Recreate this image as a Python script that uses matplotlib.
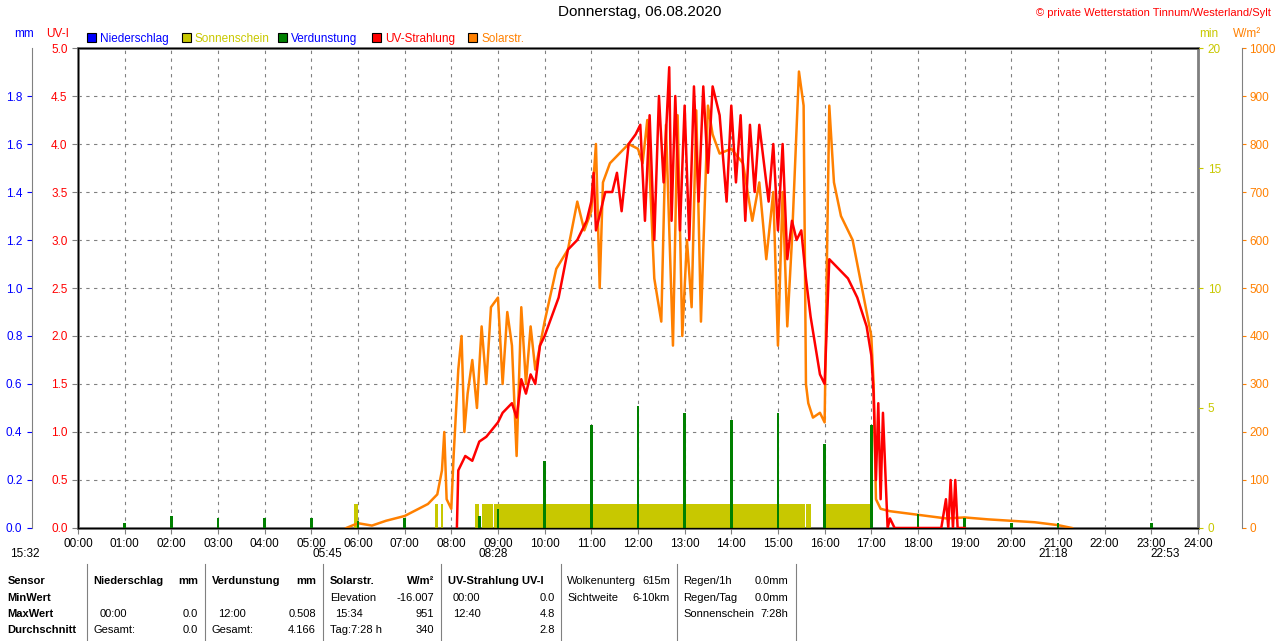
import numpy as np
from matplotlib import pyplot as plt
from matplotlib.patches import Rectangle

plt.rcParams['font.family'] = ['Liberation Sans', 'DejaVu Sans']
plt.rcParams['font.size'] = 8

# Solar radiation (W/m2), time in hours
sol_t = [5.75, 6.0, 6.3, 6.6, 7.0, 7.3, 7.5, 7.7, 7.8, 7.85, 7.9, 8.0, 8.05, 8.15, 8.22, 8.28, 8.35, 8.45,
         8.55, 8.65, 8.75, 8.85, 9.0, 9.1, 9.2, 9.3, 9.4, 9.5, 9.6, 9.7, 9.8, 9.9, 10.0, 10.25, 10.5, 10.7,
         10.85, 11.0, 11.1, 11.18, 11.25, 11.4, 11.6, 11.8, 12.0, 12.1, 12.2, 12.35, 12.5, 12.6, 12.75, 12.85,
         12.95, 13.05, 13.15, 13.25, 13.35, 13.5, 13.6, 13.75, 14.0, 14.25, 14.45, 14.6, 14.75, 14.9, 15.0,
         15.1, 15.2, 15.3, 15.45, 15.55, 15.6, 15.65, 15.75, 15.9, 16.0, 16.05, 16.1, 16.2, 16.35, 16.6,
         16.8, 17.0, 17.05, 17.1, 17.2, 17.4, 17.8, 18.2, 18.6, 19.0, 19.5, 20.0, 20.5, 21.0, 21.3]
sol_v = [0, 10, 5, 15, 25, 40, 50, 70, 120, 200, 60, 40, 150, 330, 400, 200, 280, 350,
         250, 420, 300, 460, 480, 300, 450, 380, 150, 460, 300, 420, 330, 380, 430, 540, 580, 680,
         620, 660, 800, 500, 720, 760, 780, 800, 790, 760, 850, 520, 430, 840, 380, 860, 400, 600, 460,
         870, 430, 880, 820, 780, 790, 760, 640, 720, 560, 700, 380, 700, 420, 600, 951, 880, 300, 260,
         230, 240, 220, 560, 880, 720, 650, 600, 500, 400, 300, 60, 40, 35, 30, 25, 20, 22, 18, 15, 12, 6, 0]

# UV index
uv_t = [8.12, 8.15, 8.3, 8.45, 8.6, 8.75, 9.0, 9.1, 9.2, 9.3, 9.4, 9.5, 9.6, 9.7, 9.8, 9.9, 10.0, 10.15,
        10.3, 10.5, 10.7, 10.9, 11.0, 11.05, 11.1, 11.2, 11.3, 11.45, 11.55, 11.65, 11.8, 11.95, 12.05,
        12.15, 12.25, 12.35, 12.45, 12.55, 12.67, 12.72, 12.8, 12.9, 13.0, 13.1, 13.2, 13.3, 13.4, 13.5,
        13.6, 13.75, 13.9, 14.0, 14.1, 14.2, 14.3, 14.4, 14.5, 14.6, 14.7, 14.8, 14.9, 15.0, 15.1, 15.2,
        15.3, 15.4, 15.5, 15.6, 15.7, 15.8, 15.9, 16.0, 16.1, 16.3, 16.5, 16.7, 16.9, 17.0, 17.05, 17.1,
        17.15, 17.2, 17.25, 17.35, 17.4, 17.5, 18.0, 18.5, 18.6, 18.65, 18.7, 18.75, 18.8, 18.85, 19.0]
uv_v = [0.0, 0.6, 0.75, 0.7, 0.9, 0.95, 1.1, 1.2, 1.25, 1.3, 1.15, 1.55, 1.4, 1.6, 1.5, 1.9, 2.0, 2.2,
        2.4, 2.9, 3.0, 3.2, 3.4, 3.7, 3.1, 3.3, 3.5, 3.5, 3.7, 3.3, 4.0, 4.1, 4.2, 3.2, 4.3, 3.0, 4.5,
        3.6, 4.8, 3.2, 4.5, 3.1, 4.4, 3.0, 4.6, 3.4, 4.6, 3.7, 4.6, 4.3, 3.4, 4.4, 3.6, 4.3, 3.2, 4.2,
        3.5, 4.2, 3.8, 3.4, 4.0, 3.1, 4.0, 2.8, 3.2, 3.0, 3.1, 2.6, 2.2, 1.9, 1.6, 1.5, 2.8, 2.7, 2.6,
        2.4, 2.1, 1.8, 1.4, 0.5, 1.3, 0.3, 1.2, 0.0, 0.1, 0.0, 0.0, 0.0, 0.3, 0.0, 0.5, 0.0, 0.5, 0.0, 0.0]

# Verdunstung spikes (mm)
evap_t = [1, 2, 3, 4, 5, 6, 7, 8.6, 9.0, 10.0, 11.0, 12.0, 13.0, 14.0, 15.0, 16.0, 17.0, 18.0, 19.0, 20.0, 21.0, 23.0]
evap_v = [0.02, 0.05, 0.04, 0.04, 0.04, 0.03, 0.04, 0.05, 0.08, 0.28, 0.43, 0.508, 0.48, 0.45, 0.48, 0.35, 0.43,
          0.06, 0.04, 0.02, 0.02, 0.02]

# Sonnenschein blocks (min per interval)
sun_start = [5.92, 7.65, 7.78, 8.5, 8.65, 8.92, 15.6, 16.0]
sun_end = [6.0, 7.72, 7.82, 8.6, 8.9, 15.58, 15.7, 17.0]
sun_v = [1, 1, 1, 1, 1, 1, 1, 1]

fig = plt.figure(figsize=(12.8, 6.41), dpi=100)
ax = fig.add_axes([0.0609, 0.1763, 0.875, 0.7488])
ax.set_xlim(0, 24)
ax.set_ylim(0, 5)
ax.set_xticks(range(25))
ax.set_xticklabels([f'{h:02d}:00' for h in range(25)])
ax.set_yticks(np.arange(0, 5.01, 0.5))
ax.set_yticklabels([f'{v:.1f}' for v in np.arange(0, 5.01, 0.5)], color='red')
ax.grid(True, ls=(0, (3, 4)), color='gray', lw=0.8)
for s in ax.spines.values():
    s.set_color('gray')
    s.set_linewidth(2)
ax.tick_params(length=4, color='gray', labelsize=8.5)

axm = ax.twinx()   # minutes
axm.set_ylim(0, 20)
for s, e, v in zip(sun_start, sun_end, sun_v):
    axm.add_patch(Rectangle((s, 0), e - s, v, color='#c8c800', lw=0))
axm.set_yticks([0, 5, 10, 15, 20])
axm.tick_params(colors='#c8c800', labelsize=8.5)
axm.spines['right'].set_color('gray')

axw = ax.twinx()   # W/m2
axw.set_ylim(0, 1000)
axw.spines['right'].set_position(('outward', 32))
axw.spines['right'].set_color('gray')
axw.set_yticks(range(0, 1001, 100))
axw.tick_params(colors='#ff8000', labelsize=8.5, length=3, pad=2)
axw.plot(sol_t, sol_v, color='#ff8000', lw=1.8)

axmm = ax.twinx()  # mm
axmm.set_ylim(0, 2.0)
axmm.yaxis.set_ticks_position('left')
axmm.spines['left'].set_position(('outward', 33))
axmm.spines['left'].set_color('gray')
axmm.spines['right'].set_visible(False)
mm_ticks = np.arange(0, 1.81, 0.2)
axmm.set_yticks(mm_ticks)
axmm.set_yticklabels([f'{v:.1f}' for v in mm_ticks])
axmm.tick_params(colors='blue', labelsize=8.5)
axmm.bar(evap_t, evap_v, width=0.06, color='green')
axmm.plot(uv_t, np.array(uv_v) * 0.4, color='red', lw=1.8)

fig.text(0.5, 0.975, 'Donnerstag, 06.08.2020', ha='center', fontsize=11)
fig.text(0.993, 0.975, '© private Wetterstation Tinnum/Westerland/Sylt', ha='right', color='red', fontsize=8)
fig.text(0.011, 0.943, 'mm', color='blue', fontsize=8.5)
fig.text(0.036, 0.943, 'UV-I', color='red', fontsize=8.5)
fig.text(0.937, 0.943, 'min', color='#c8c800', fontsize=8.5)
fig.text(0.963, 0.943, 'W/m²', color='#ff8000', fontsize=8.5)
legend = [('Niederschlag', 'blue', 'blue'), ('Sonnenschein', '#c8c800', '#c8c800'),
          ('Verdunstung', 'green', 'blue'), ('UV-Strahlung', 'red', 'red'), ('Solarstr.', '#ff8000', '#ff8000')]
lx = [0.068, 0.142, 0.217, 0.291, 0.366]
for x, (name, c, tc) in zip(lx, legend):
    fig.patches.append(Rectangle((x, 0.934), 0.007, 0.014, transform=fig.transFigure,
                                 facecolor=c, edgecolor='black', lw=0.8))
    fig.text(x + 0.010, 0.935, name, color=tc, fontsize=8.5)

for x, y, s in [(0.008, 0.131, '15:32'), (0.244, 0.131, '05:45'), (0.374, 0.131, '08:28'),
                (0.811, 0.131, '21:18'), (0.899, 0.131, '22:53')]:
    fig.text(x, y, s, fontsize=8.5)

# footer table
rows_y = [0.094, 0.067, 0.042, 0.017]
fs = 8
for r, s in enumerate(['Sensor', 'MinWert', 'MaxWert', 'Durchschnitt']):
    fig.text(0.006, rows_y[r], s, fontweight='bold', fontsize=fs, va='center')
cells = [
    (0.0727, 0, 'Niederschlag', 'l', True), (0.1547, 0, 'mm', 'r', True),
    (0.0780, 2, '00:00', 'l', False), (0.1547, 2, '0.0', 'r', False),
    (0.0727, 3, 'Gesamt:', 'l', False), (0.1547, 3, '0.0', 'r', False),
    (0.1656, 0, 'Verdunstung', 'l', True), (0.2469, 0, 'mm', 'r', True),
    (0.1700, 2, '12:00', 'l', False), (0.2469, 2, '0.508', 'r', False),
    (0.1656, 3, 'Gesamt:', 'l', False), (0.2469, 3, '4.166', 'r', False),
    (0.2578, 0, 'Solarstr.', 'l', True), (0.3390, 0, 'W/m²', 'r', True),
    (0.2578, 1, 'Elevation', 'l', False), (0.3390, 1, '-16.007', 'r', False),
    (0.2620, 2, '15:34', 'l', False), (0.3390, 2, '951', 'r', False),
    (0.2578, 3, 'Tag:7:28 h', 'l', False), (0.3390, 3, '340', 'r', False),
    (0.3500, 0, 'UV-Strahlung UV-I', 'l', True),
    (0.3540, 1, '00:00', 'l', False), (0.4336, 1, '0.0', 'r', False),
    (0.3540, 2, '12:40', 'l', False), (0.4336, 2, '4.8', 'r', False),
    (0.4336, 3, '2.8', 'r', False),
    (0.4430, 0, 'Wolkenunterg', 'l', False), (0.5234, 0, '615m', 'r', False),
    (0.4430, 1, 'Sichtweite', 'l', False), (0.5234, 1, '6-10km', 'r', False),
    (0.5340, 0, 'Regen/1h', 'l', False), (0.6160, 0, '0.0mm', 'r', False),
    (0.5340, 1, 'Regen/Tag', 'l', False), (0.6160, 1, '0.0mm', 'r', False),
    (0.5340, 2, 'Sonnenschein', 'l', False), (0.6160, 2, '7:28h', 'r', False),
]
for x, r, s, al, b in cells:
    fig.text(x, rows_y[r], s, ha='left' if al == 'l' else 'right', va='center',
             fontweight='bold' if b else 'normal', fontsize=fs)
for x in [0.068, 0.160, 0.2523, 0.3445, 0.4383, 0.529, 0.622]:
    fig.add_artist(plt.Line2D([x, x], [0.0, 0.12], color='gray', lw=0.8, transform=fig.transFigure))

fig.savefig('out.png', dpi=100)
